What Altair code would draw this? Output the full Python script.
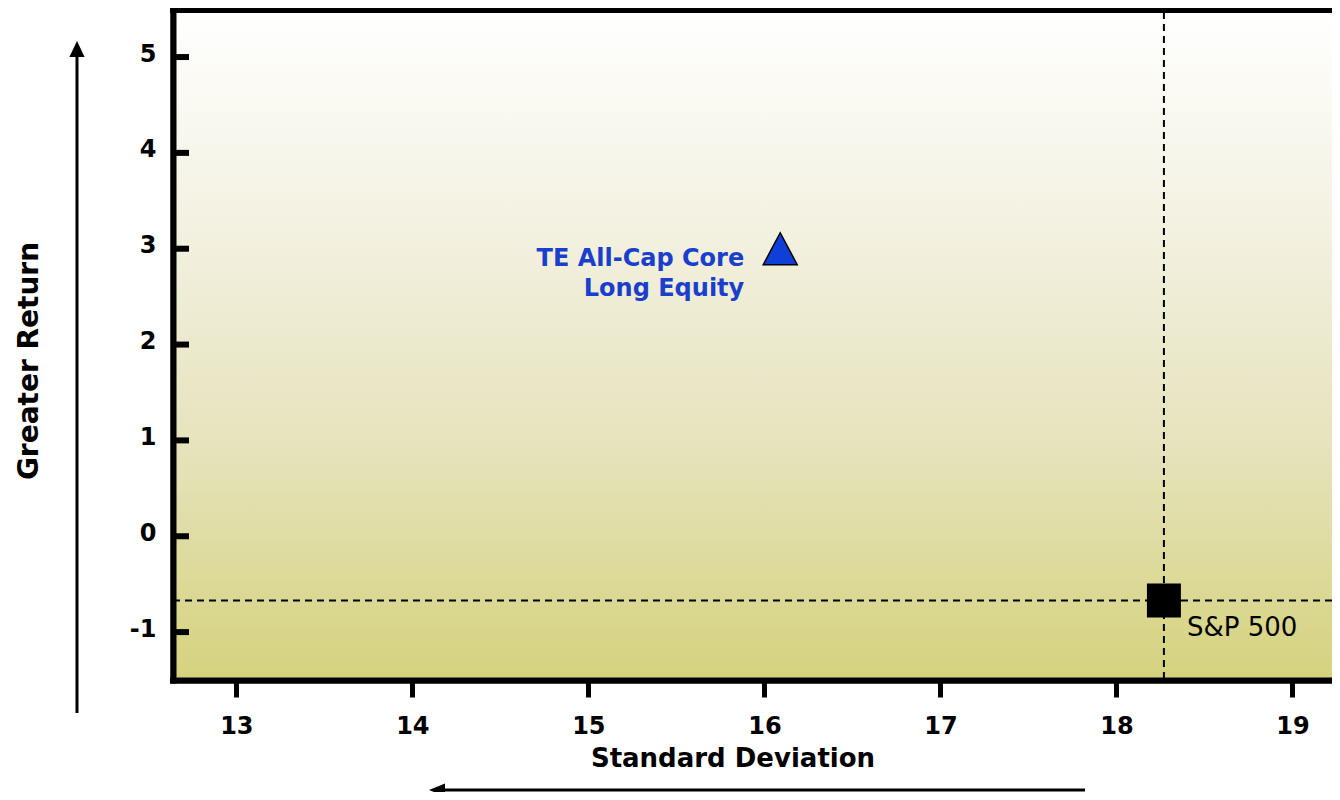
import altair as alt
import pandas as pd

# ---- data ----
series = ["TE All-Cap Core\nLong Equity", "S&P 500"]
std_dev = [16.09, 18.27]
returns = [3.0, -0.67]
x_ticks = [13, 14, 15, 16, 17, 18, 19]
y_ticks = [-1, 0, 1, 2, 3, 4, 5]
x_domain = [12.64, 19.225]
y_domain = [-1.5, 5.47]

W, H = 1159, 668
FONT = "DejaVu Sans"
BLUE = "#1a3fcc"

pts = pd.DataFrame({"name": series, "sd": std_dev, "ret": returns})
te = pts.iloc[[0]]
sp = pts.iloc[[1]]
yt = pd.DataFrame({"ret": y_ticks})

xs = alt.Scale(domain=x_domain, nice=False, zero=False)
ys = alt.Scale(domain=y_domain, nice=False, zero=False)

LABEL_EXPR = "datum.value < 0 ? '-' + format(-datum.value, 'd') : format(datum.value, 'd')"

xaxis = alt.Axis(
    values=x_ticks, title="Standard Deviation", grid=False,
    domainColor="black", domainWidth=6, domainCap="square",
    tickColor="black", tickWidth=5, tickSize=17,
    labelFont=FONT, labelFontSize=24, labelFontWeight="bold", labelColor="black",
    labelBaseline="alphabetic", labelPadding=36, labelFlush=False, labelAngle=0,
    labelExpr=LABEL_EXPR,
    titleFont=FONT, titleFontSize=26, titleFontWeight="bold", titleColor="black",
    titleX=559.5, titleY=86, titleAlign="center", titleBaseline="alphabetic",
)
yaxis = alt.Axis(
    values=y_ticks, title="Greater Return", grid=False, ticks=False,
    domainColor="black", domainWidth=6, domainCap="square",
    labelFont=FONT, labelFontSize=24, labelFontWeight="bold", labelColor="black",
    labelBaseline="middle", labelOffset=-3, labelPadding=17, labelFlush=False,
    labelExpr=LABEL_EXPR,
    titleFont=FONT, titleFontSize=28, titleFontWeight="bold", titleColor="black",
    titleX=-136, titleY=348.5, titleAngle=270, titleAlign="center", titleBaseline="alphabetic",
)

X = alt.X("sd:Q", scale=xs, axis=xaxis)
Y = alt.Y("ret:Q", scale=ys, axis=yaxis)

bg = alt.Chart(pts).mark_rect(
    fill=alt.LinearGradient(
        gradient="linear", x1=0, y1=0, x2=0, y2=1,
        stops=[alt.GradientStop(color="#ffffff", offset=0),
               alt.GradientStop(color="#f4f2e3", offset=0.3),
               alt.GradientStop(color="#e6e3bd", offset=0.65),
               alt.GradientStop(color="#d5d27e", offset=1)],
    )
).encode(x=alt.value(0), x2=alt.value(W), y=alt.value(0), y2=alt.value(H))

vline = alt.Chart(sp).mark_rule(color="black", strokeWidth=2, strokeDash=[7, 5]).encode(x=X)
hline = alt.Chart(sp).mark_rule(color="black", strokeWidth=2, strokeDash=[7, 5]).encode(y=Y)

yticks = alt.Chart(yt).mark_rule(color="black", strokeWidth=6).encode(
    y=Y, x=alt.value(0), x2=alt.value(16))

# frame: top, left and bottom borders
top_border = alt.Chart(sp).mark_rule(color="black", strokeWidth=6, strokeCap="square").encode(
    x=alt.value(0), x2=alt.value(W), y=alt.value(-2))
left_border = alt.Chart(sp).mark_rule(color="black", strokeWidth=6, strokeCap="square").encode(
    x=alt.value(0.5), y=alt.value(-2), y2=alt.value(H))
bottom_border = alt.Chart(sp).mark_rule(color="black", strokeWidth=6, strokeCap="square").encode(
    x=alt.value(0), x2=alt.value(W), y=alt.value(H + 0.5))

te_pt = alt.Chart(te).mark_point(
    shape="M0,-0.94L1,0.94L-1,0.94Z", size=1156, filled=True,
    fill="#0f3fd6", stroke="black", strokeWidth=1.5, opacity=1,
).encode(x=X, y=Y)

sp_pt = alt.Chart(sp).mark_point(
    shape="square", size=1156, filled=True, color="black", opacity=1,
).encode(x=X, y=Y)

te_lbl = alt.Chart(te).mark_text(
    align="right", baseline="alphabetic", dx=-36, dy=17, lineBreak="\n", lineHeight=30,
    font=FONT, fontSize=24, fontWeight="bold", color=BLUE,
).encode(x=X, y=Y, text="name:N")

sp_lbl = alt.Chart(sp).mark_text(
    align="left", baseline="alphabetic", dx=23, dy=36,
    font=FONT, fontSize=26, color="black",
).encode(x=X, y=Y, text="name:N")

# decorative direction arrows
v_arrow = alt.Chart(sp).mark_rule(color="black", strokeWidth=3).encode(
    x=alt.value(-96), y=alt.value(45), y2=alt.value(701))
v_head = alt.Chart(sp).mark_point(
    shape="M0,-1L0.95,1L-0.95,1Z", size=256, filled=True, color="black", opacity=1
).encode(x=alt.value(-96), y=alt.value(37))
h_arrow = alt.Chart(sp).mark_rule(color="black", strokeWidth=3).encode(
    x=alt.value(272), x2=alt.value(912), y=alt.value(778))
h_head = alt.Chart(sp).mark_point(
    shape="M-1,0L1,-0.8L1,0.8Z", size=256, filled=True, color="black", opacity=1
).encode(x=alt.value(264), y=alt.value(778))

chart = alt.layer(
    bg, vline, hline, yticks, top_border, left_border, bottom_border,
    te_pt, sp_pt, te_lbl, sp_lbl,
    v_arrow, v_head, h_arrow, h_head,
).properties(
    width=W, height=H,
    autosize=alt.AutoSizeParams(type="none"),
    padding={"left": 165, "top": 4, "right": 0, "bottom": 112},
    background="white",
).configure_view(stroke=None)

chart.save("out.html", embed_options={"renderer": "svg", "actions": False})
